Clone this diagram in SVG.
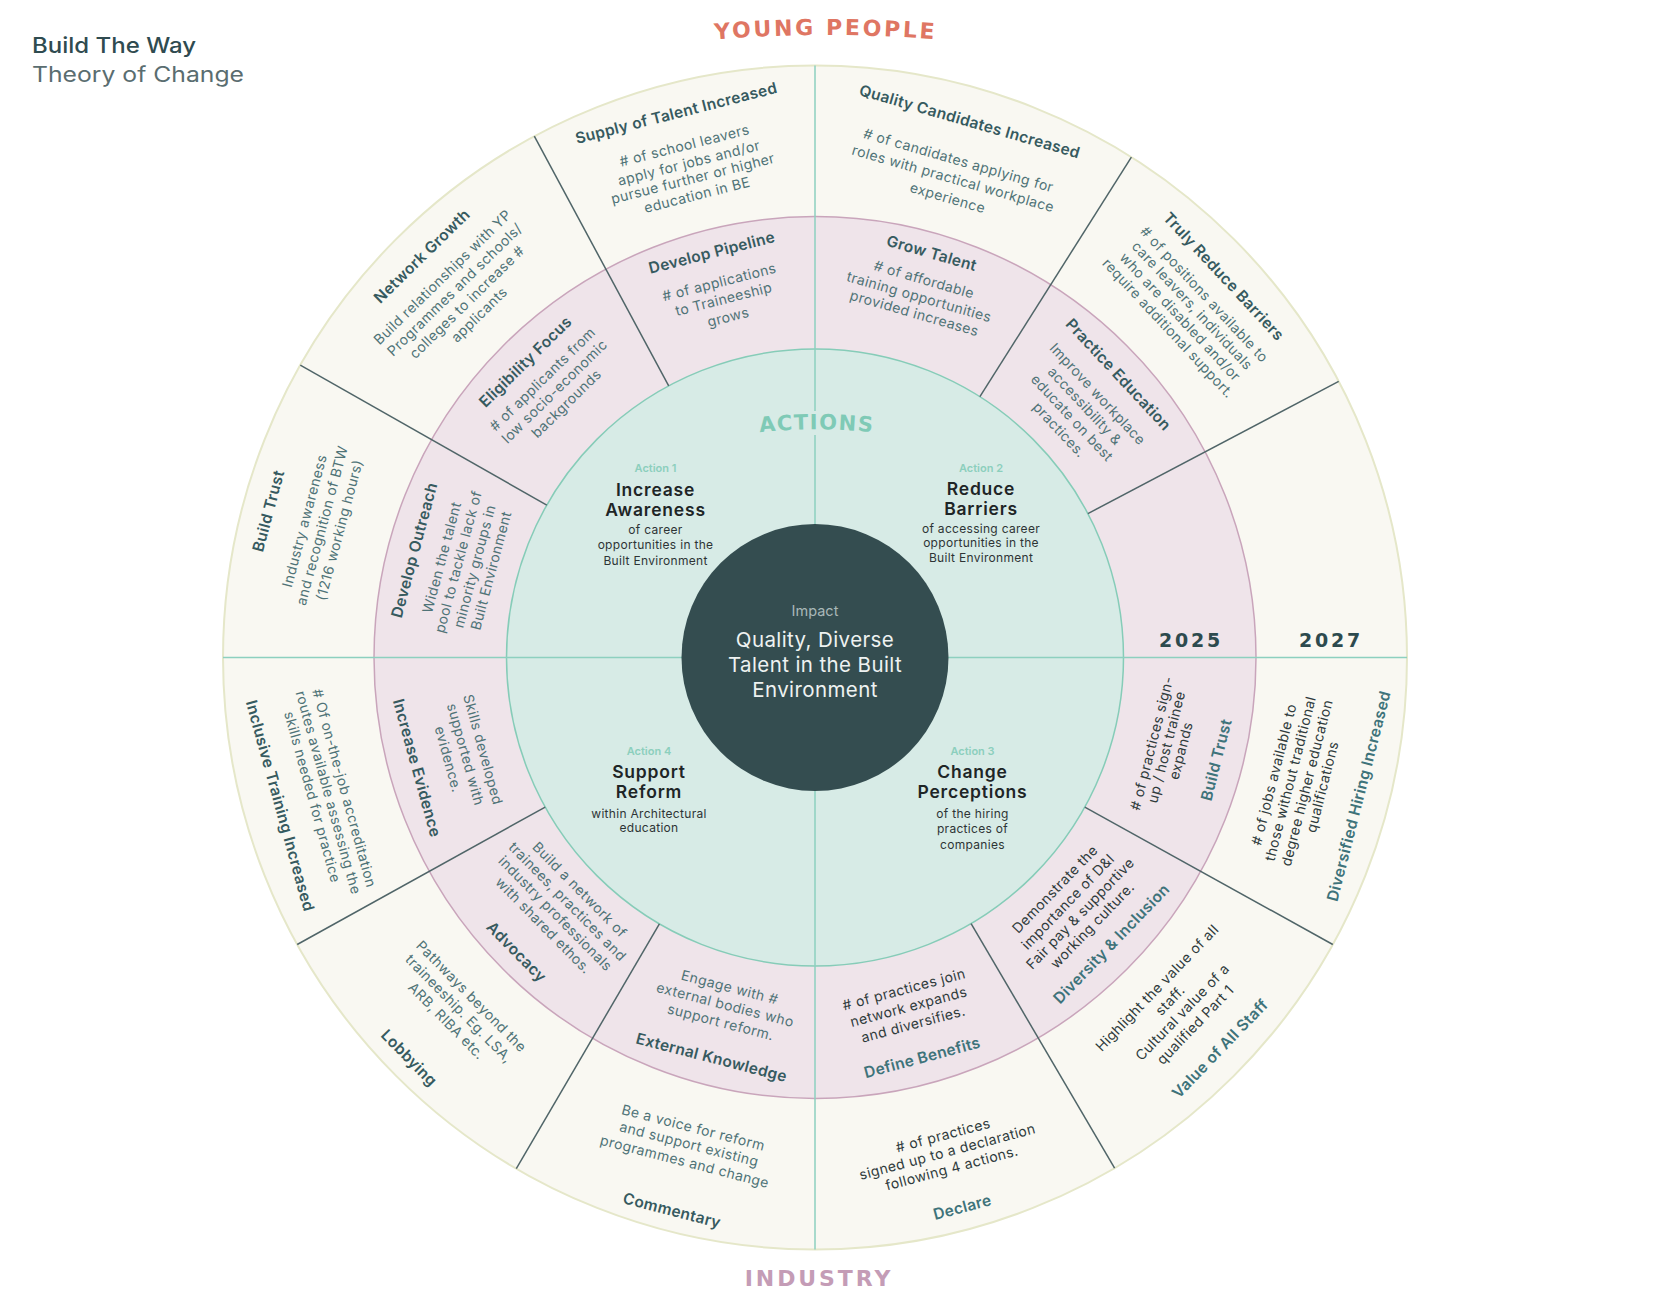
<svg xmlns="http://www.w3.org/2000/svg" width="1668" height="1300" viewBox="0 0 1668 1300">
<style>
text { font-family: Inter, "Noto Sans", "DejaVu Sans", sans-serif; }
.t { font-size: 15.5px; font-weight: 600; letter-spacing: 0.3px; fill: #365a5f; text-anchor: middle; dominant-baseline: central; }
.d { font-size: 14px; font-weight: 400; letter-spacing: 0.4px; fill: #4f7377; text-anchor: middle; dominant-baseline: central; }
.t2 { font-size: 15.5px; font-weight: 600; letter-spacing: 0.3px; fill: #3e737a; text-anchor: middle; dominant-baseline: central; }
.d2 { font-size: 14px; font-weight: 400; letter-spacing: 0.4px; fill: #2f3b3c; text-anchor: middle; dominant-baseline: central; }
.al { font-size: 11px; font-weight: 600; fill: #8ccfbd; text-anchor: middle; }
.at { font-size: 17.5px; font-weight: 600; letter-spacing: 0.8px; fill: #1e2526; text-anchor: middle; }
.ad { font-size: 12px; font-weight: 400; letter-spacing: 0.3px; fill: #2e3435; text-anchor: middle; }
.im { font-size: 20.5px; letter-spacing: 0.4px; fill: #eef2f1; text-anchor: middle; }
.big { font-family: "DejaVu Sans", sans-serif; font-weight: 700; text-anchor: middle; }
.div { stroke: #506568; stroke-width: 1.5; fill: none; }
.cross { stroke: #8dd0bf; stroke-width: 1.5; fill: none; }
</style>
<defs>
<path id="arcActions" d="M 686.7 445.8 A 520 520 0 0 1 946.7 445.8"/>
<path id="arcYoung" d="M 665.7 44.2 A 1400 1400 0 0 1 985.7 44.2"/>
</defs>
<rect width="1668" height="1300" fill="#ffffff"/>

<g id="title">
<text x="32" y="53" font-size="21" font-weight="500" fill="#2f4b50" textLength="164" lengthAdjust="spacingAndGlyphs">Build The Way</text>
<text x="32" y="82" font-size="21" font-weight="400" fill="#5a6d70" textLength="212" lengthAdjust="spacingAndGlyphs">Theory of Change</text>
</g>

<g id="rings">
<circle cx="815" cy="657.5" r="592" fill="#f9f8f2" stroke="#e5e7c9" stroke-width="2"/>
<circle cx="815" cy="657.5" r="441" fill="#efe4ea" stroke="#c9a5bb" stroke-width="1.5"/>
<circle cx="815" cy="657.5" r="308.5" fill="#d7ebe6" stroke="#86ccb8" stroke-width="1.5"/>
</g>

<g id="connectors">
<line class="cross" x1="815" y1="65.5" x2="815" y2="411"/>
<line class="cross" x1="815" y1="435" x2="815" y2="1249.5"/>
<line class="cross" x1="223" y1="657.5" x2="1407" y2="657.5"/>
<line class="div" x1="546.8" y1="505.1" x2="300.3" y2="365.1"/>
<line class="div" x1="668.7" y1="385.9" x2="534.3" y2="136.2"/>
<line class="div" x1="979.9" y1="396.7" x2="1131.4" y2="157.1"/>
<line class="div" x1="1087.9" y1="513.6" x2="1338.7" y2="381.4"/>
<line class="div" x1="1084.8" y1="807.1" x2="1332.8" y2="944.5"/>
<line class="div" x1="971.1" y1="923.6" x2="1114.6" y2="1168.1"/>
<line class="div" x1="659.4" y1="923.9" x2="516.3" y2="1168.6"/>
<line class="div" x1="545.2" y1="807.1" x2="297.2" y2="944.5"/>
</g>

<g id="impact">
<circle cx="815" cy="657.5" r="133.5" fill="#344d50"/>
<text x="815" y="616" font-size="14.5" fill="#a9b8b8" text-anchor="middle">Impact</text>
<text class="im" x="815" y="647">Quality, Diverse</text>
<text class="im" x="815" y="672">Talent in the Built</text>
<text class="im" x="815" y="696.5">Environment</text>
</g>

<g id="labels">
<text class="big" font-size="22" fill="#df7663" letter-spacing="2.6"><textPath href="#arcYoung" startOffset="50%">YOUNG PEOPLE</textPath></text>
<text class="big" x="819" y="1286" font-size="22" fill="#c49cb6" letter-spacing="2.9">INDUSTRY</text>
<text class="big" font-size="21" fill="#7fcab6" letter-spacing="1.4"><textPath href="#arcActions" startOffset="50%">ACTIONS</textPath></text>
<text class="big" x="1191" y="646.5" font-size="19" fill="#2d4a4e" letter-spacing="2.8">2025</text>
<text class="big" x="1331" y="646.5" font-size="19" fill="#2d4a4e" letter-spacing="2.8">2027</text>
</g>

<g id="action1">
<text class="al" x="655.5" y="472">Action 1</text>
<text class="at" x="655.5" y="495.5">Increase</text>
<text class="at" x="655.5" y="515.5">Awareness</text>
<text class="ad" x="655.5" y="534">of career</text>
<text class="ad" x="655.5" y="549">opportunities in the</text>
<text class="ad" x="655.5" y="565">Built Environment</text>
</g>
<g id="action2">
<text class="al" x="981" y="472">Action 2</text>
<text class="at" x="981" y="494.5">Reduce</text>
<text class="at" x="981" y="514.5">Barriers</text>
<text class="ad" x="981" y="532.5">of accessing career</text>
<text class="ad" x="981" y="547">opportunities in the</text>
<text class="ad" x="981" y="562">Built Environment</text>
</g>
<g id="action3">
<text class="al" x="972.5" y="755">Action 3</text>
<text class="at" x="972.5" y="777.5">Change</text>
<text class="at" x="972.5" y="798">Perceptions</text>
<text class="ad" x="972.5" y="818">of the hiring</text>
<text class="ad" x="972.5" y="833">practices of</text>
<text class="ad" x="972.5" y="849">companies</text>
</g>
<g id="action4">
<text class="al" x="649" y="755">Action 4</text>
<text class="at" x="649" y="777.5">Support</text>
<text class="at" x="649" y="797.5">Reform</text>
<text class="ad" x="649" y="818">within Architectural</text>
<text class="ad" x="649" y="832">education</text>
</g>

<g id="supply-of-talent" transform="rotate(-14.3 815 657.5)">
<text class="t" x="815" y="95.5">Supply of Talent Increased</text>
<text class="d" x="815" y="128.5"># of school leavers</text>
<text class="d" x="815" y="146.5">apply for jobs and/or</text>
<text class="d" x="815" y="162.5">pursue further or higher</text>
<text class="d" x="815" y="179.5">education in BE</text>
</g>
<g id="develop-pipeline" transform="rotate(-14.3 815 657.5)">
<text class="t" x="815" y="239.5">Develop Pipeline</text>
<text class="d" x="815" y="269.5"># of applications</text>
<text class="d" x="815" y="287">to Traineeship</text>
<text class="d" x="815" y="305.5">grows</text>
</g>
<g id="network-growth" transform="rotate(-44.4 815 657.5)">
<text class="t" x="815" y="95.5">Network Growth</text>
<text class="d" x="815" y="124.5">Build relationships with YP</text>
<text class="d" x="815" y="142">Programmes and schools/</text>
<text class="d" x="815" y="159.5">colleges to increase #</text>
<text class="d" x="815" y="177">applicants</text>
</g>
<g id="eligibility-focus" transform="rotate(-44.4 815 657.5)">
<text class="t" x="815" y="243.5">Eligibility Focus</text>
<text class="d" x="815" y="267.5"># of applicants from</text>
<text class="d" x="815" y="284.5">low socio-economic</text>
<text class="d" x="815" y="301.5">backgrounds</text>
</g>
<g id="build-trust-outer" transform="rotate(-75 815 657.5)">
<text class="t" x="815" y="91.5">Build Trust</text>
<text class="d" x="815" y="128.5">Industry awareness</text>
<text class="d" x="815" y="146.5">and recognition of BTW</text>
<text class="d" x="815" y="164.5">(1216 working hours)</text>
</g>
<g id="develop-outreach" transform="rotate(-75 815 657.5)">
<text class="t" x="815" y="242.5">Develop Outreach</text>
<text class="d" x="815" y="270.5">Widen the talent</text>
<text class="d" x="815" y="287.5">pool to tackle lack of</text>
<text class="d" x="815" y="304.5">minority groups in</text>
<text class="d" x="815" y="321.5">Built Environment</text>
</g>
<g id="quality-candidates" transform="rotate(16.1 815 657.5)">
<text class="t" x="815" y="99.5">Quality Candidates Increased</text>
<text class="d" x="815" y="139.5"># of candidates applying for</text>
<text class="d" x="815" y="158.5">roles with practical workplace</text>
<text class="d" x="815" y="178.5">experience</text>
</g>
<g id="grow-talent" transform="rotate(16.1 815 657.5)">
<text class="t" x="815" y="236.5">Grow Talent</text>
<text class="d" x="815" y="263.5"># of affordable</text>
<text class="d" x="815" y="281.5">training opportunities</text>
<text class="d" x="815" y="298.5">provided increases</text>
</g>
<g id="truly-reduce-barriers" transform="rotate(47 815 657.5)">
<text class="t" x="815" y="98.5">Truly Reduce Barriers</text>
<text class="d" x="815" y="124.5"># of positions available to</text>
<text class="d" x="815" y="141">care leavers, individuals</text>
<text class="d" x="815" y="157.5">who are disabled and/or</text>
<text class="d" x="815" y="174">require additional support.</text>
</g>
<g id="practice-education" transform="rotate(47 815 657.5)">
<text class="t" x="815" y="242.5">Practice Education</text>
<text class="d" x="815" y="270.5">Improve workplace</text>
<text class="d" x="815" y="288">accessibility &amp;</text>
<text class="d" x="815" y="305.5">educate on best</text>
<text class="d" x="815" y="323">practices.</text>
</g>

<g id="build-trust-inner" transform="rotate(-75.7 815 657.5)">
<text class="d2" x="815" y="1004.5"># of practices sign-</text>
<text class="d2" x="815" y="1019.5">up / host trainee</text>
<text class="d2" x="815" y="1034.5">expands</text>
<text class="t2" x="815" y="1071.5">Build Trust</text>
</g>
<g id="diversified-hiring" transform="rotate(-75.7 815 657.5)">
<text class="d2" x="815" y="1130.5"># of jobs available to</text>
<text class="d2" x="815" y="1147.5">those without traditional</text>
<text class="d2" x="815" y="1164.5">degree higher education</text>
<text class="d2" x="815" y="1180.5">qualifications</text>
<text class="t2" x="815" y="1218.5">Diversified Hiring Increased</text>
</g>
<g id="diversity-inclusion" transform="rotate(-46 815 657.5)">
<text class="d2" x="815" y="990.5">Demonstrate the</text>
<text class="d2" x="815" y="1008.5">importance of D&amp;I</text>
<text class="d2" x="815" y="1025.5">Fair pay &amp; supportive</text>
<text class="d2" x="815" y="1042.5">working culture.</text>
<text class="t2" x="815" y="1069.5">Diversity &amp; Inclusion</text>
</g>
<g id="value-of-all-staff" transform="rotate(-46 815 657.5)">
<text class="d2" x="815" y="1132.5">Highlight the value of all</text>
<text class="d2" x="815" y="1150.5">staff.</text>
<text class="d2" x="815" y="1167.5">Cultural value of a</text>
<text class="d2" x="815" y="1185.5">qualified Part 1</text>
<text class="t2" x="815" y="1220.5">Value of All Staff</text>
</g>
<g id="define-benefits" transform="rotate(-15 815 657.5)">
<text class="d2" x="815" y="1000.5"># of practices join</text>
<text class="d2" x="815" y="1018.5">network expands</text>
<text class="d2" x="815" y="1036.5">and diversifies.</text>
<text class="t2" x="815" y="1071.5">Define Benefits</text>
</g>
<g id="declare" transform="rotate(-15 815 657.5)">
<text class="d2" x="815" y="1151.5"># of practices</text>
<text class="d2" x="815" y="1168.5">signed up to a declaration</text>
<text class="d2" x="815" y="1185.5">following 4 actions.</text>
<text class="t2" x="815" y="1226.5">Declare</text>
</g>

<g id="external-knowledge" transform="rotate(14.5 815 657.5)">
<text class="d" x="815" y="997.5">Engage with #</text>
<text class="d" x="815" y="1015.5">external bodies who</text>
<text class="d" x="815" y="1033.5">support reform.</text>
<text class="t" x="815" y="1070.5">External Knowledge</text>
</g>
<g id="commentary" transform="rotate(14.5 815 657.5)">
<text class="d" x="815" y="1142.5">Be a voice for reform</text>
<text class="d" x="815" y="1159.5">and support existing</text>
<text class="d" x="815" y="1177.5">programmes and change</text>
<text class="t" x="815" y="1228.5">Commentary</text>
</g>
<g id="advocacy" transform="rotate(45.4 815 657.5)">
<text class="d" x="815" y="987.5">Build a network of</text>
<text class="d" x="815" y="1004.5">trainees, practices and</text>
<text class="d" x="815" y="1021.5">industry professionals</text>
<text class="d" x="815" y="1038.5">with shared ethos.</text>
<text class="t" x="815" y="1076.5">Advocacy</text>
</g>
<g id="lobbying" transform="rotate(45.4 815 657.5)">
<text class="d" x="815" y="1139.5">Pathways beyond the</text>
<text class="d" x="815" y="1157">traineeship. Eg. LSA,</text>
<text class="d" x="815" y="1174.5">ARB, RIBA etc.</text>
<text class="t" x="815" y="1227.5">Lobbying</text>
</g>
<g id="increase-evidence" transform="rotate(74.5 815 657.5)">
<text class="d" x="815" y="1001.5">Skills developed</text>
<text class="d" x="815" y="1019.5">supported with</text>
<text class="d" x="815" y="1037.5">evidence.</text>
<text class="t" x="815" y="1070.5">Increase Evidence</text>
</g>
<g id="inclusive-training" transform="rotate(74.5 815 657.5)">
<text class="d" x="815" y="1145.5"># Of on-the-job accreditation</text>
<text class="d" x="815" y="1162">routes available assessing the</text>
<text class="d" x="815" y="1178.5">skills needed for practice</text>
<text class="t" x="815" y="1212.5">Inclusive Training Increased</text>
</g>
</svg>
